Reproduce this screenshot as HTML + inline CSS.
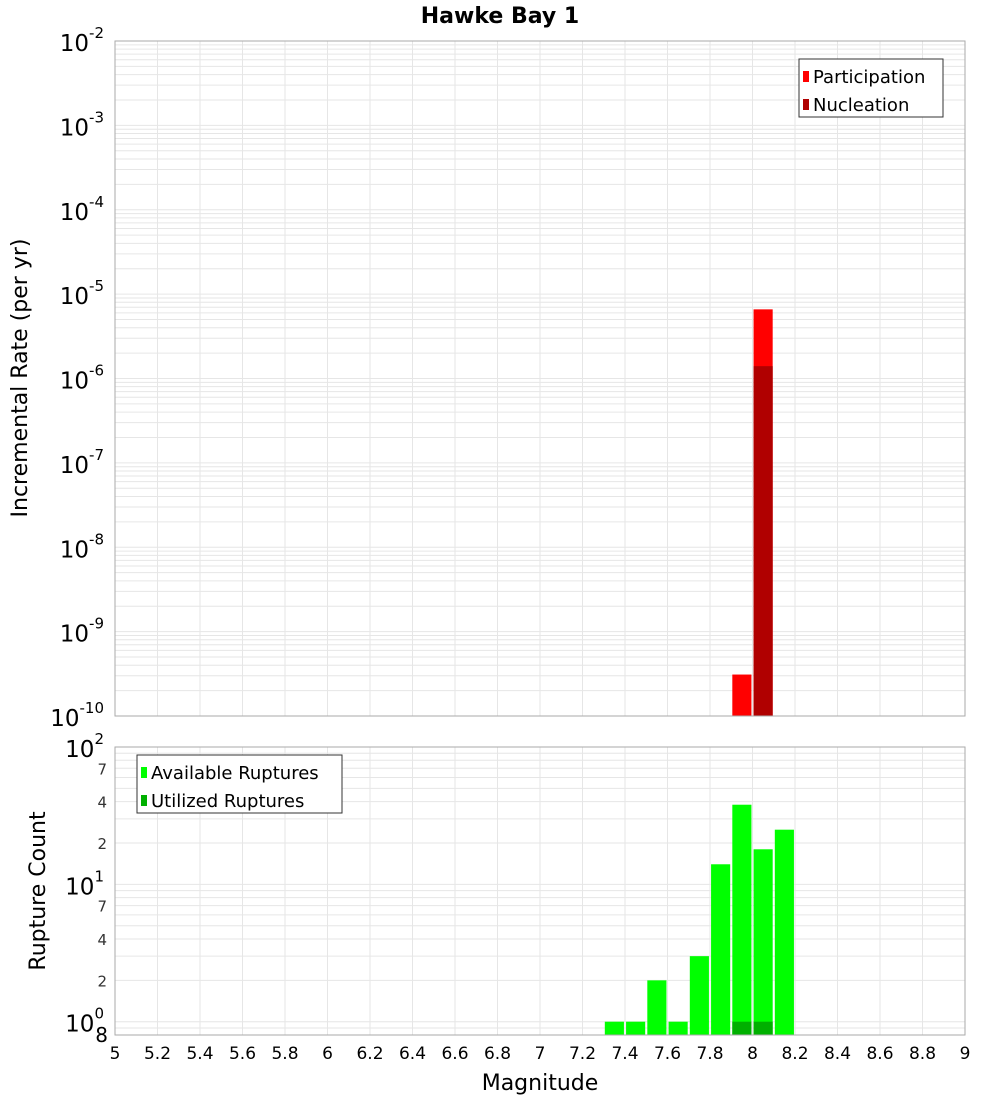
<!DOCTYPE html>
<html><head><meta charset="utf-8"><style>
html,body{margin:0;padding:0;background:#fff;}
svg{display:block;font-family:"DejaVu Sans","Liberation Sans",sans-serif;}
</style></head><body>
<svg id="chart" width="1000" height="1100" viewBox="0 0 1000 1100">
<text x="500" y="23" text-anchor="middle" font-size="22" font-weight="bold">Hawke Bay 1</text>
<g id="topG"></g>
<g id="botG"></g>
<text transform="translate(27,378) rotate(-90)" text-anchor="middle" font-size="22">Incremental Rate (per yr)</text>
<text transform="translate(45,891) rotate(-90)" text-anchor="middle" font-size="22">Rupture Count</text>
<text x="540" y="1090" text-anchor="middle" font-size="22">Magnitude</text>
</svg>
<script>
const mags = [7.35,7.45,7.55,7.65,7.75,7.85,7.95,8.05,8.15];
const available = [1,1,2,1,3,14,38,18,25];
const utilized = [0,0,0,0,0,0,1,1,0];
const partMags = [7.95,8.05];
const participation = [3.1e-10,6.6e-6];
const nucMags = [8.05];
const nucleation = [1.4e-6];
const xTicks = [5,5.2,5.4,5.6,5.8,6,6.2,6.4,6.6,6.8,7,7.2,7.4,7.6,7.8,8,8.2,8.4,8.6,8.8,9];
const topExps = [-2,-3,-4,-5,-6,-7,-8,-9,-10];
const botMinor = [2,4,7,20,40,70];

const NS="http://www.w3.org/2000/svg";
const L=115,R=965;
const T1=41,B1=716,T2=747,B2=1035;
const X=m=>L+(m-5)/(9-5)*(R-L);
const Y1=v=>T1+(-2-Math.log10(v))/8*(B1-T1);
const Y2=v=>T2+(2-Math.log10(v))/(2-Math.log10(0.8))*(B2-T2);
function mk(p,tag,a,txt){const e=document.createElementNS(NS,tag);for(const k in a)e.setAttribute(k,a[k]);if(txt!==undefined)e.textContent=txt;p.appendChild(e);return e;}
const topG=document.getElementById('topG'),botG=document.getElementById('botG');
const bw=(X(5.1)-X(5))*0.9;

mk(topG,'rect',{x:L,y:T1,width:R-L,height:B1-T1,fill:'#fff'});
for(let e=-10;e<-2;e++)for(let k=1;k<10;k++){const y=Y1(k*Math.pow(10,e));
 const g=mk(topG,'line',{x1:L,x2:R,y1:y,y2:y,stroke:'#e6e6e6','stroke-width':1});
 
 }
xTicks.forEach(t=>{const g=mk(topG,'line',{x1:X(t),x2:X(t),y1:T1,y2:B1,stroke:'#e6e6e6'});
 
 });
mk(botG,'rect',{x:L,y:T2,width:R-L,height:B2-T2,fill:'#fff'});
[0.8,0.9,1,2,3,4,5,6,7,8,9,10,20,30,40,50,60,70,80,90].forEach(v=>{const y=Y2(v);
 const g=mk(botG,'line',{x1:L,x2:R,y1:y,y2:y,stroke:'#e6e6e6'});
 
 });
xTicks.forEach(t=>{const g=mk(botG,'line',{x1:X(t),x2:X(t),y1:T2,y2:B2,stroke:'#e6e6e6'});
 
 });

partMags.forEach((m,i)=>{const y=Y1(participation[i]);
 const r=mk(topG,'rect',{x:X(m)-bw/2,y:y,width:bw,height:B1-y,fill:'#ff0000'});
 
 });
nucMags.forEach((m,i)=>{const y=Y1(nucleation[i]);
 const r=mk(topG,'rect',{x:X(m)-bw/2,y:y,width:bw,height:B1-y,fill:'#b00000'});
 
 });
mags.forEach((m,i)=>{const y=Y2(available[i]);
 const r=mk(botG,'rect',{x:X(m)-bw/2,y:y,width:bw,height:B2-y,fill:'#00ff00'});
 
 
 if(utilized[i]>0){const y2=Y2(utilized[i]);
  const u=mk(botG,'rect',{x:X(m)-bw/2,y:y2,width:bw,height:B2-y2,fill:'#00b000'});
  
  }});

mk(topG,'rect',{x:L,y:T1,width:R-L,height:B1-T1,fill:'none',stroke:'#aaa'});
mk(botG,'rect',{x:L,y:T2,width:R-L,height:B2-T2,fill:'none',stroke:'#aaa'});

topExps.forEach(e=>{const y=Y1(Math.pow(10,e));
 const t=mk(topG,'text',{x:104,y:y+10,'text-anchor':'end','font-size':23});
 
 
 mk(t,'tspan',{},'10');mk(t,'tspan',{dy:-13,'font-size':15},String(e));});
[[100,'2'],[10,'1'],[1,'0']].forEach(([v,s])=>{const y=Y2(v);
 const t=mk(botG,'text',{x:104,y:y+10,'text-anchor':'end','font-size':23});
 
 
 mk(t,'tspan',{},'10');mk(t,'tspan',{dy:-13,'font-size':15},s);});
botMinor.forEach(v=>{const y=Y2(v);
 const t=mk(botG,'text',{x:107,y:y+6,'text-anchor':'end','font-size':15,fill:'#333'},String(v).charAt(0));
 
 });
{const t=mk(botG,'text',{x:108,y:Y2(0.8)+7,'text-anchor':'end','font-size':20},'8');
 
 }
xTicks.forEach(t=>{const e=mk(botG,'text',{x:X(t),y:1059,'text-anchor':'middle','font-size':17},String(t));
 
 });

function legend(p,x,y,w,items,name){const g=mk(p,'g',{});
 
 
 mk(g,'rect',{x:x,y:y,width:w,height:58,fill:'#fff',stroke:'#333'});
 items.forEach((it,i)=>{const yy=y+18+i*28;
  mk(g,'rect',{x:x+4,y:yy-6,width:6,height:11,fill:it[1]});
  const t=mk(g,'text',{x:x+14,y:yy+6,'font-size':18},it[0]);
  
  });}
legend(topG,799,59,144,[['Participation','#ff0000'],['Nucleation','#b00000']],'rate-legend');
legend(botG,137,755,205,[['Available Ruptures','#00ff00'],['Utilized Ruptures','#00b000']],'count-legend');
</script>
</body></html>
